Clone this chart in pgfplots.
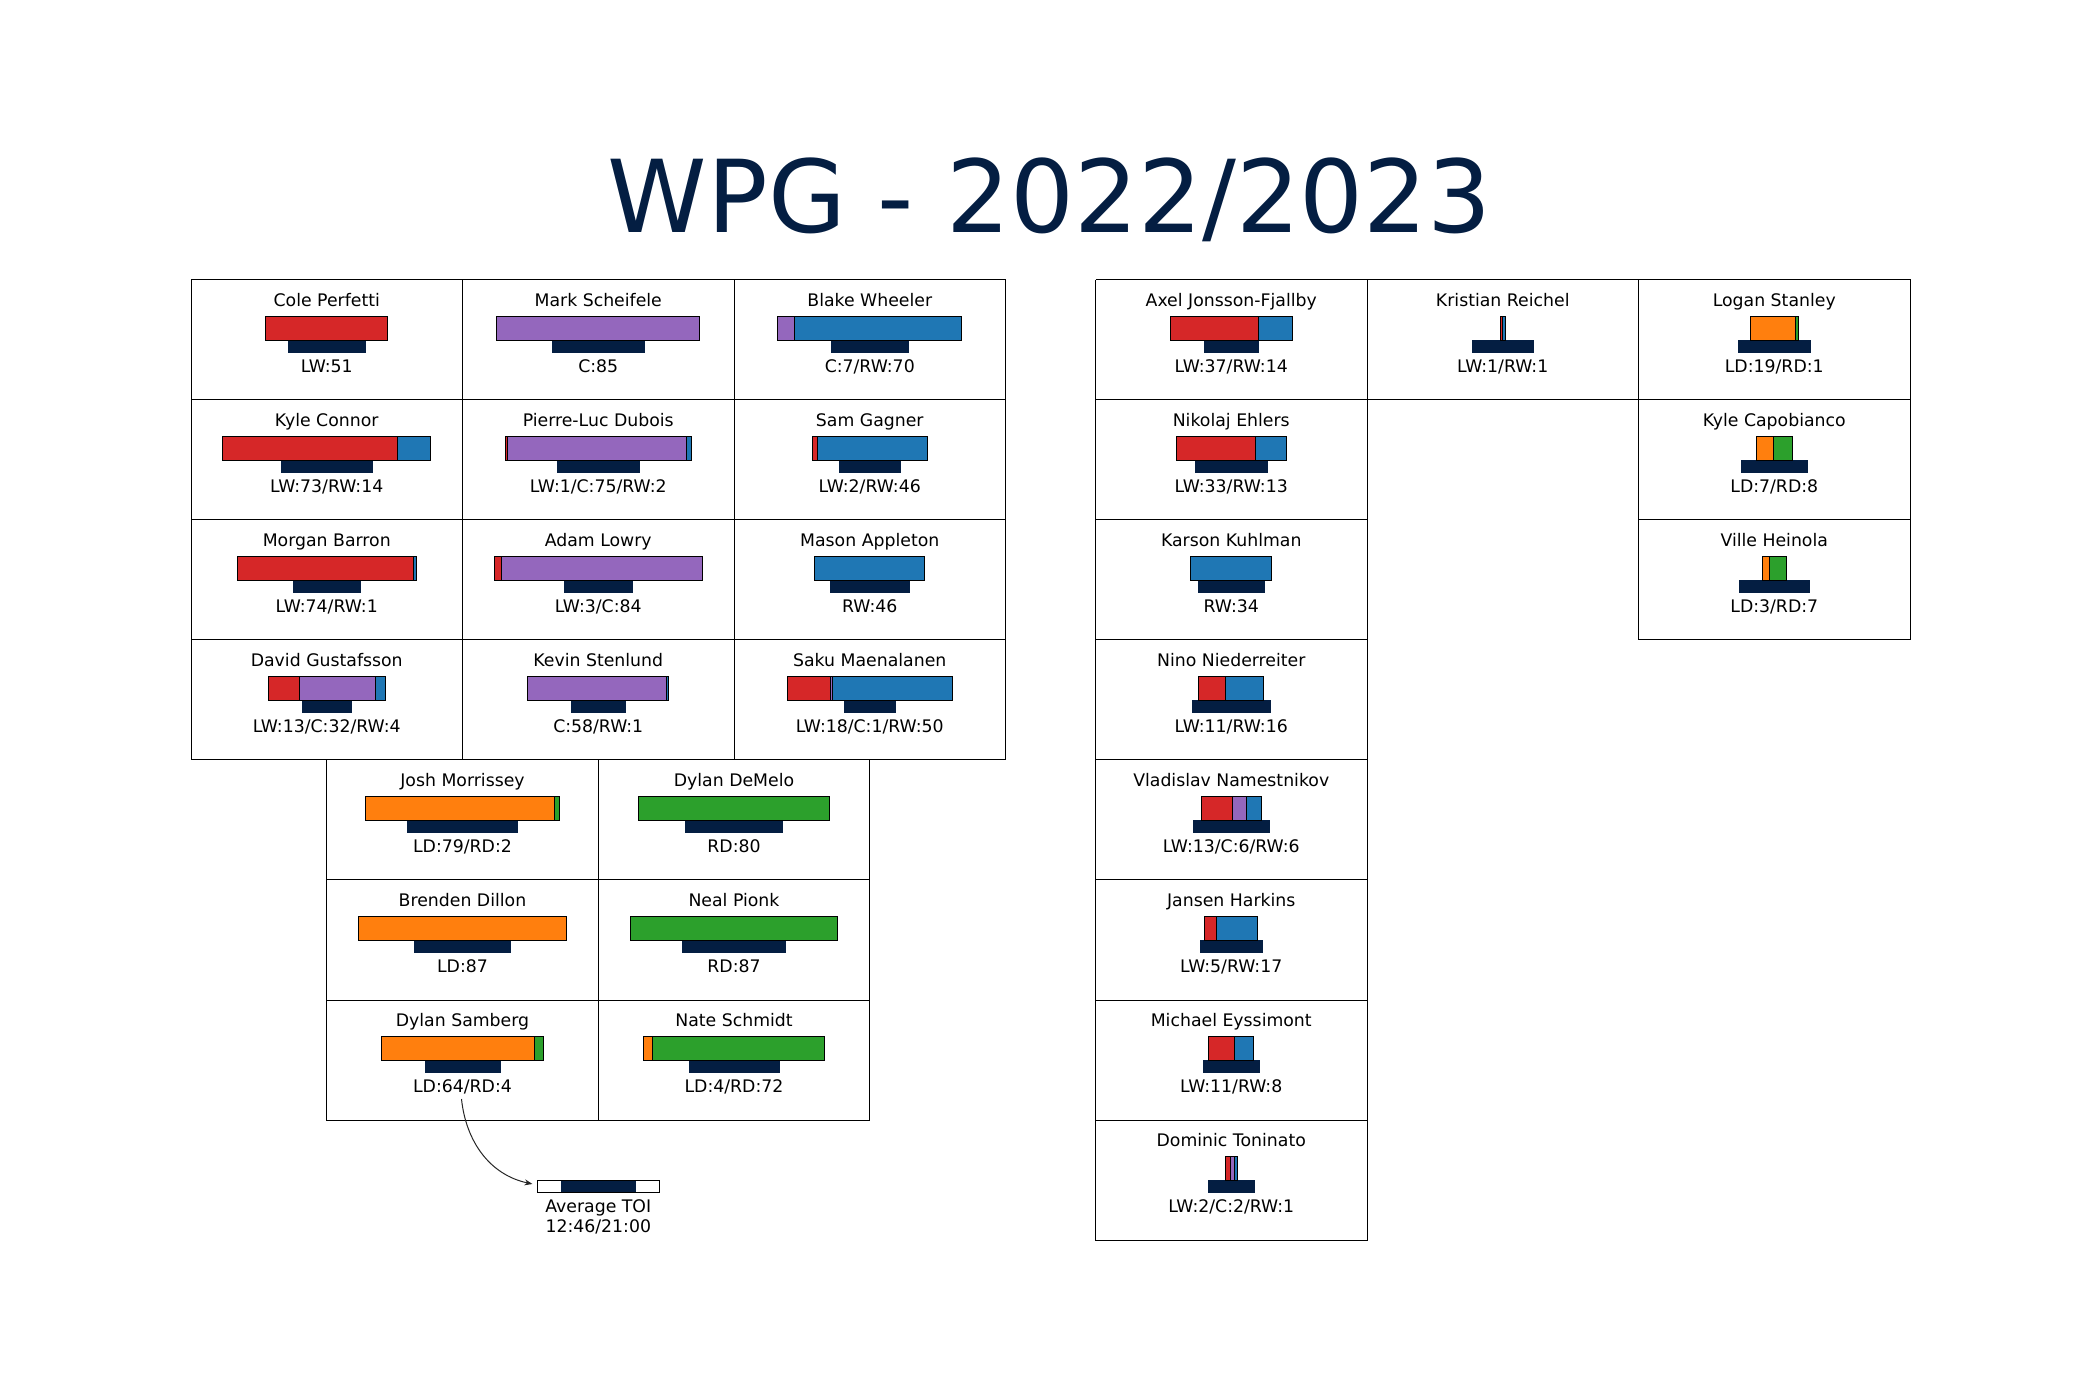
\documentclass[border=0pt]{standalone}
\usepackage{pgfplots}
\pgfplotsset{compat=1.18}
\usepackage{fontspec}
\setmainfont{DejaVu Sans}
\usetikzlibrary{arrows.meta}
\definecolor{cLW}{HTML}{D62728}
\definecolor{cC}{HTML}{9467BD}
\definecolor{cRW}{HTML}{1F77B4}
\definecolor{cLD}{HTML}{FF7F0E}
\definecolor{cRD}{HTML}{2CA02C}
\definecolor{navy}{HTML}{041E42}
\newcommand\lblfont{\fontsize{8.65}{10}\selectfont}
\def\K{2.39}   % px per game
\def\T{5.81}   % px per minute of TOI (21:00 = 122 px)

% #1 x0, #2 y0, #3 name, #4 g1, #5 g2, #6 g3, #7 TOI (min), #8 label
\newcommand{\player}[8]{%
 \pgfmathsetmacro\pxL{#1}%
 \pgfmathsetmacro\pxR{#1+271.5}%
 \pgfmathsetmacro\pyT{#2}%
 \pgfmathsetmacro\pyB{#2+120}%
 \pgfmathsetmacro\pcx{#1+135.75}%
 \pgfmathsetmacro\ptot{#4+#5+#6}%
 \pgfmathsetmacro\pxa{\pcx-\ptot*\K/2}%
 \pgfmathsetmacro\pxb{\pxa+#4*\K}%
 \pgfmathsetmacro\pxc{\pxb+#5*\K}%
 \pgfmathsetmacro\pxd{\pxc+#6*\K}%
 \pgfmathsetmacro\pya{#2+36.3}%
 \pgfmathsetmacro\pyb{#2+60.3}%
 \pgfmathsetmacro\pyc{#2+72.3}%
 \pgfmathsetmacro\pna{\pcx-#7*\T/2}%
 \pgfmathsetmacro\pnb{\pcx+#7*\T/2}%
 \pgfmathsetmacro\pyn{#2+26.5}%
 \pgfmathsetmacro\pyl{#2+92.5}%
 \edef\tmp{%
  \noexpand\addplot[draw=black,line width=0.5pt] coordinates {(\pxL,\pyT) (\pxR,\pyT) (\pxR,\pyB) (\pxL,\pyB) (\pxL,\pyT)};
  \noexpand\addplot[fill=navy,draw=navy,line width=0.3pt] coordinates {(\pna,\pyb) (\pnb,\pyb) (\pnb,\pyc) (\pna,\pyc)} --cycle;
  \noexpand\node[font=\noexpand\lblfont,anchor=base,text=black] at (axis cs:\pcx,\pyn) {#3};
  \noexpand\node[font=\noexpand\lblfont,anchor=base,text=black] at (axis cs:\pcx,\pyl) {#8};
 }\tmp
 \ifnum#4>0 \edef\tmp{\noexpand\addplot[fill=\colA,draw=black,line width=0.5pt] coordinates {(\pxa,\pya) (\pxb,\pya) (\pxb,\pyb) (\pxa,\pyb)} --cycle;}\tmp\fi
 \ifnum#5>0 \edef\tmp{\noexpand\addplot[fill=\colB,draw=black,line width=0.5pt] coordinates {(\pxb,\pya) (\pxc,\pya) (\pxc,\pyb) (\pxb,\pyb)} --cycle;}\tmp\fi
 \ifnum#6>0 \edef\tmp{\noexpand\addplot[fill=\colC,draw=black,line width=0.5pt] coordinates {(\pxc,\pya) (\pxd,\pya) (\pxd,\pyb) (\pxc,\pyb)} --cycle;}\tmp\fi
}
\newcommand{\fwd}[8]{\def\colA{cLW}\def\colB{cC}\def\colC{cRW}\player{#1}{#2}{#3}{#4}{#5}{#6}{#7}{#8}}
\newcommand{\dmn}[7]{\def\colA{cLD}\def\colB{cRD}\def\colC{cRD}\player{#1}{#2}{#3}{#4}{#5}{0}{#6}{#7}}

\begin{document}
\begin{tikzpicture}
\begin{axis}[
  width=1050pt, height=700pt, scale only axis,
  xmin=0, xmax=2100, ymin=0, ymax=1400, y dir=reverse,
  hide axis, clip=false,
  every axis plot/.append style={mark=none},
]
\path (rel axis cs:0,0) rectangle (rel axis cs:1,1);
\node[font=\fontsize{50.3}{60}\selectfont, text=navy, anchor=base] at (axis cs:1050,232.7) {WPG - 2022/2023};

% forwards, left block
\fwd{191}{280}{Cole Perfetti}{51}{0}{0}{13.17}{LW:51}
\fwd{462.5}{280}{Mark Scheifele}{0}{85}{0}{15.68}{C:85}
\fwd{734}{280}{Blake Wheeler}{0}{7}{70}{13.17}{C:7/RW:70}
\fwd{191}{400}{Kyle Connor}{73}{0}{14}{15.60}{LW:73/RW:14}
\fwd{462.5}{400}{Pierre-Luc Dubois}{1}{75}{2}{14.23}{LW:1/C:75/RW:2}
\fwd{734}{400}{Sam Gagner}{2}{0}{46}{10.40}{LW:2/RW:46}
\fwd{191}{520}{Morgan Barron}{74}{0}{1}{11.46}{LW:74/RW:1}
\fwd{462.5}{520}{Adam Lowry}{3}{84}{0}{11.55}{LW:3/C:84}
\fwd{734}{520}{Mason Appleton}{0}{0}{46}{13.53}{RW:46}
\fwd{191}{640}{David Gustafsson}{13}{32}{4}{8.33}{LW:13/C:32/RW:4}
\fwd{462.5}{640}{Kevin Stenlund}{0}{58}{1}{9.23}{C:58/RW:1}
\fwd{734}{640}{Saku Maenalanen}{18}{1}{50}{8.78}{LW:18/C:1/RW:50}

% defence, left block
\dmn{326.75}{760}{Josh Morrissey}{79}{2}{18.93}{LD:79/RD:2}
\dmn{598.25}{760}{Dylan DeMelo}{0}{80}{16.78}{RD:80}
\dmn{326.75}{880}{Brenden Dillon}{87}{0}{16.54}{LD:87}
\dmn{598.25}{880}{Neal Pionk}{0}{87}{17.68}{RD:87}
\dmn{326.75}{1000}{Dylan Samberg}{64}{4}{12.84}{LD:64/RD:4}
\dmn{598.25}{1000}{Nate Schmidt}{4}{72}{15.46}{LD:4/RD:72}

% right block
\fwd{1095.5}{280}{Axel Jonsson-Fjallby}{37}{0}{14}{9.36}{LW:37/RW:14}
\fwd{1095.5}{400}{Nikolaj Ehlers}{33}{0}{13}{12.46}{LW:33/RW:13}
\fwd{1095.5}{520}{Karson Kuhlman}{0}{0}{34}{11.41}{RW:34}
\fwd{1095.5}{640}{Nino Niederreiter}{11}{0}{16}{13.55}{LW:11/RW:16}
\fwd{1095.5}{760}{Vladislav Namestnikov}{13}{6}{6}{13.20}{LW:13/C:6/RW:6}
\fwd{1095.5}{880}{Jansen Harkins}{5}{0}{17}{10.79}{LW:5/RW:17}
\fwd{1095.5}{1000}{Michael Eyssimont}{11}{0}{8}{9.69}{LW:11/RW:8}
\fwd{1095.5}{1120}{Dominic Toninato}{2}{2}{1}{8.04}{LW:2/C:2/RW:1}
\fwd{1367}{280}{Kristian Reichel}{1}{0}{1}{10.59}{LW:1/RW:1}
\dmn{1638.5}{280}{Logan Stanley}{19}{1}{12.38}{LD:19/RD:1}
\dmn{1638.5}{400}{Kyle Capobianco}{7}{8}{11.48}{LD:7/RD:8}
\dmn{1638.5}{520}{Ville Heinola}{3}{7}{12.03}{LD:3/RD:7}

% legend: average TOI 12:46 of 21:00
\addplot[fill=white,draw=black,line width=0.5pt] coordinates {(537.3,1180.3) (659.3,1180.3) (659.3,1192.3) (537.3,1192.3)} --cycle;
\addplot[fill=navy,draw=navy,line width=0.3pt] coordinates {(561.2,1180.3) (635.4,1180.3) (635.4,1192.3) (561.2,1192.3)} --cycle;
\addplot[draw=black,line width=0.5pt] coordinates {(537.3,1180.3) (659.3,1180.3) (659.3,1192.3) (537.3,1192.3)} --cycle;
\node[font=\lblfont,anchor=base] at (axis cs:598.3,1212.3) {Average TOI};
\node[font=\lblfont,anchor=base] at (axis cs:598.3,1232.3) {12:46/21:00};
\draw[-{Stealth[length=4pt,width=3pt]}, black!85, line width=0.5pt] (axis cs:461.5,1099) to[out=-84,in=168] (axis cs:532.5,1184);
\end{axis}
\end{tikzpicture}
\end{document}
